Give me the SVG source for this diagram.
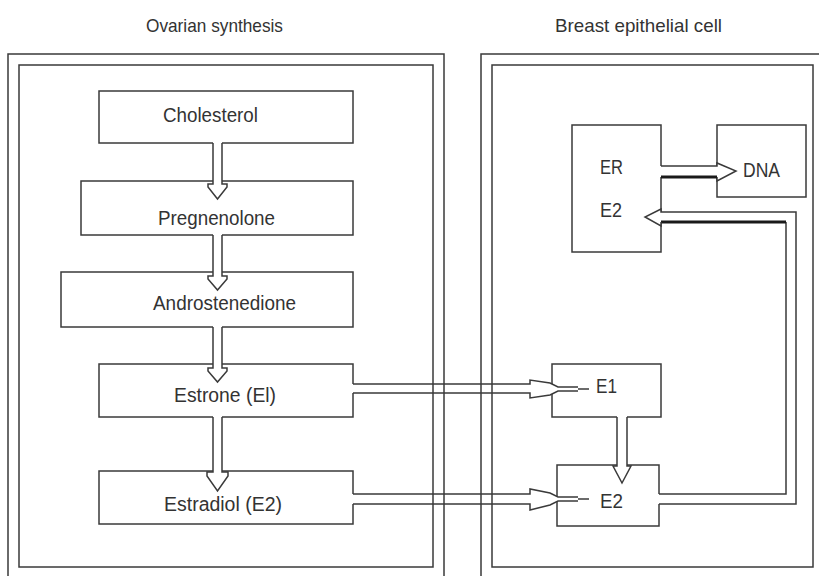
<svg xmlns="http://www.w3.org/2000/svg" width="819" height="576" viewBox="0 0 819 576">
<style>
.bx{fill:#fff;stroke:#3a3a3a;stroke-width:1.5}
.fr{fill:none;stroke:#3a3a3a;stroke-width:1.5}
.af{fill:#fff;stroke:none}
.ln{fill:none;stroke:#3a3a3a;stroke-width:1.5;stroke-linejoin:miter}
.tk{fill:none;stroke:#1a1a1a;stroke-width:3}
text{font-family:"Liberation Sans",Arial,sans-serif;font-size:20px;fill:#333}
.tt{font-size:19px}
</style>
<rect width="819" height="576" fill="#fff"/>
<text class="tt" x="146" y="32" textLength="137" lengthAdjust="spacingAndGlyphs">Ovarian synthesis</text>
<text class="tt" x="555" y="32" textLength="167" lengthAdjust="spacingAndGlyphs">Breast epithelial cell</text>

<g id="cholesterol"><rect class="bx" x="99" y="91" width="254" height="52"/><text x="163" y="122" textLength="95" lengthAdjust="spacingAndGlyphs">Cholesterol</text></g>
<g id="pregnenolone"><rect class="bx" x="81" y="181" width="272" height="54"/><text x="158" y="225" textLength="117" lengthAdjust="spacingAndGlyphs">Pregnenolone</text></g>
<g id="androstenedione"><rect class="bx" x="61" y="272" width="292" height="55"/><text x="153" y="310" textLength="143" lengthAdjust="spacingAndGlyphs">Androstenedione</text></g>
<g id="estrone"><rect class="bx" x="99" y="364" width="254" height="53"/><text x="174" y="402" textLength="102" lengthAdjust="spacingAndGlyphs">Estrone (El)</text></g>
<g id="estradiol"><rect class="bx" x="99" y="471" width="254" height="53"/><text x="164" y="511" textLength="118" lengthAdjust="spacingAndGlyphs">Estradiol (E2)</text></g>
<g id="er"><rect class="bx" x="572" y="125" width="89" height="127"/><text x="600" y="174" textLength="23" lengthAdjust="spacingAndGlyphs">ER</text><text x="600" y="217" textLength="22" lengthAdjust="spacingAndGlyphs">E2</text></g>
<g id="dna"><rect class="bx" x="717" y="125" width="89" height="72"/><text x="743" y="177" textLength="37" lengthAdjust="spacingAndGlyphs">DNA</text></g>
<g id="e1"><rect class="bx" x="552" y="364" width="109" height="53"/><text x="596" y="393" textLength="21" lengthAdjust="spacingAndGlyphs">E1</text></g>
<g id="e2"><rect class="bx" x="557" y="465" width="102" height="61"/><text x="600" y="508" textLength="23" lengthAdjust="spacingAndGlyphs">E2</text></g>

<g id="connectors">
 <!-- vertical left column -->
 <polygon class="af" points="213,142 213,184 208,184 208,187 217.5,199 227,187 227,184 222,184 222,142"/>
 <polyline class="ln" points="213,143 213,184 208,184 208,187 217.5,199 227,187 227,184 222,184 222,143"/>
 <polygon class="af" points="213,234 213,276 208,276 208,279 217.5,290 227,279 227,276 222,276 222,234"/>
 <polyline class="ln" points="213,235 213,276 208,276 208,279 217.5,290 227,279 227,276 222,276 222,235"/>
 <polygon class="af" points="213,326 213,368 208,368 208,371 217.5,382 227,371 227,368 222,368 222,326"/>
 <polyline class="ln" points="213,327 213,368 208,368 208,371 217.5,382 227,371 227,368 222,368 222,327"/>
 <polygon class="af" points="213,416 213,472 207,472 207,476 217.5,491 228,476 228,472 222,472 222,416"/>
 <polyline class="ln" points="213,417 213,472 207,472 207,476 217.5,491 228,476 228,472 222,472 222,417"/>
 <!-- Estrone -> E1 -->
 <polygon class="af" points="352,384 530,384 530,380 550,383 558,387 578,387 589,389 578,391 558,391 550,395 530,398 530,393 352,393"/>
 <polyline class="ln" points="353,384 530,384 530,380 550,383 558,387 578,387"/>
 <polyline class="ln" points="353,393 530,393 530,398 550,395 558,391 578,391"/>
 <line class="ln" x1="578" y1="389" x2="589" y2="389"/>
 <!-- Estradiol -> E2 -->
 <polygon class="af" points="352,494 530,494 530,489 550,493 558,497 578,497 589,499 578,501 558,501 550,505 530,510 530,504 352,504"/>
 <polyline class="ln" points="353,494 530,494 530,489 550,493 558,497 578,497"/>
 <polyline class="ln" points="353,504 530,504 530,510 550,505 558,501 578,501"/>
 <line class="ln" x1="578" y1="499" x2="589" y2="499"/>
 <!-- E1 -> E2 -->
 <polygon class="af" points="617,416 617,466 613,466 622,483 631,466 627,466 627,416"/>
 <polyline class="ln" points="617,417 617,466 613,466 622,483 631,466 627,466 627,417"/>
 <!-- E2 -> ER/E2 -->
 <polygon class="af" points="658,494 786,494 786,222 661,222 661,226 645,217 661,209 661,212 796,212 796,504 658,504"/>
 <polyline class="ln" points="659,494 786,494 786,222"/>
 <polyline class="tk" points="661,222 786,222"/>
 <polyline class="ln" points="661,222 661,226 645,217 661,209 661,212 796,212 796,504 659,504"/>
 <!-- ER -> DNA -->
 <polygon class="af" points="660,166 717,166 717,163 736,171 717,181 717,177 660,177"/>
 <polyline class="ln" points="661,166 717,166 717,163 736,171 717,181 717,177"/>
 <polyline class="tk" points="661,177 717,177"/>
</g>

<g id="frames">
 <rect class="fr" x="8" y="54" width="436" height="530"/>
 <rect class="fr" x="19" y="65" width="414" height="502"/>
 <rect class="fr" x="481" y="54" width="345" height="530"/>
 <rect class="fr" x="492" y="65" width="321" height="502"/>
</g>
</svg>
